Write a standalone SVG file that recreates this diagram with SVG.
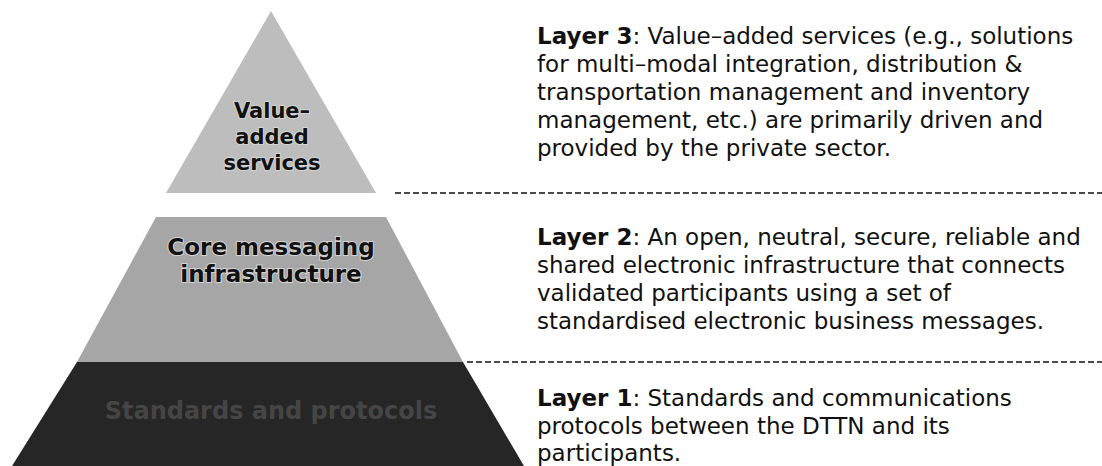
<svg xmlns="http://www.w3.org/2000/svg" width="1102" height="466" viewBox="0 0 1102 466">
<style>
.desc{font-family:"DejaVu Sans",sans-serif;font-size:23px;fill:#111}
.desc tspan.b{font-weight:bold}
.lbl{font-family:"DejaVu Sans",sans-serif;font-weight:bold;text-anchor:middle}
.lbl-dark{fill:#111;stroke:#d4d4d4;stroke-width:2;paint-order:stroke}
.dash{stroke:#111;stroke-width:1.5;stroke-dasharray:6 3;fill:none}
</style>
<rect width="1102" height="466" fill="#ffffff"/>
<g id="layer3">
<polygon points="271,11 376,193 166,193" fill="#bdbdbd"/>
<text class="lbl lbl-dark" font-size="21"><tspan x="272" y="118">Value–</tspan><tspan x="272" y="144">added</tspan><tspan x="272" y="170">services</tspan></text>
</g>
<g id="layer2">
<polygon points="156,217 386,217 463,362 77,362" fill="#a6a6a6"/>
<text class="lbl lbl-dark" font-size="23"><tspan x="271" y="255">Core messaging</tspan><tspan x="271" y="282">infrastructure</tspan></text>
</g>
<g id="layer1">
<polygon points="77,362 463,362 524,466 12,466" fill="#262626"/>
<text class="lbl" font-size="24" fill="#454545" x="271" y="419">Standards and protocols</text>
</g>
<g id="connectors">
<line class="dash" x1="395" y1="193" x2="1102" y2="193"/>
<line class="dash" x1="467" y1="362" x2="1102" y2="362"/>
</g>
<g id="desc3">
<text class="desc"><tspan x="537" y="44"><tspan class="b">Layer 3</tspan>: Value–added services (e.g., solutions</tspan><tspan x="537" y="72">for multi–modal integration, distribution &amp;</tspan><tspan x="537" y="100">transportation management and inventory</tspan><tspan x="537" y="128">management, etc.) are primarily driven and</tspan><tspan x="537" y="156">provided by the private sector.</tspan></text>
</g>
<g id="desc2">
<text class="desc"><tspan x="537" y="245"><tspan class="b">Layer 2</tspan>: An open, neutral, secure, reliable and</tspan><tspan x="537" y="273">shared electronic infrastructure that connects</tspan><tspan x="537" y="301">validated participants using a set of</tspan><tspan x="537" y="329">standardised electronic business messages.</tspan></text>
</g>
<g id="desc1">
<text class="desc"><tspan x="537" y="406"><tspan class="b">Layer 1</tspan>: Standards and communications</tspan><tspan x="537" y="434">protocols between the DTTN and its</tspan><tspan x="537" y="461">participants.</tspan></text>
</g>
</svg>
